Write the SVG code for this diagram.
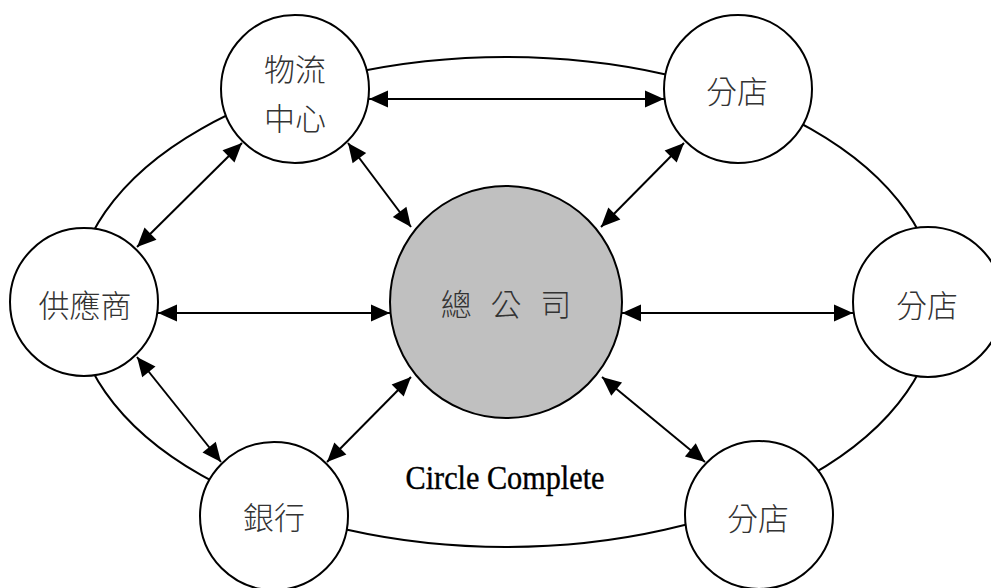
<svg xmlns="http://www.w3.org/2000/svg" width="991" height="588" viewBox="0 0 991 588">
<style>
.node{fill:#fff;stroke:#000;stroke-width:2}
.hub{fill:#c0c0c0;stroke:#000;stroke-width:2}
.lbl{font-family:"Noto Sans CJK TC","Noto Sans CJK SC",sans-serif;font-size:31px;font-weight:300;fill:#333;text-anchor:middle}
.arr{stroke:#000;stroke-width:2;fill:none;marker-start:url(#ah);marker-end:url(#ah)}
.ring{fill:none;stroke:#000;stroke-width:2}
.cap{font-family:"Liberation Serif",serif;font-size:34px;fill:#000;stroke:#000;stroke-width:0.4;text-anchor:middle}
</style>
<defs>
<marker id="ah" markerUnits="userSpaceOnUse" markerWidth="19" markerHeight="17" refX="19" refY="8.5" orient="auto-start-reverse" overflow="visible">
<path d="M0,0 L19,8.5 L0,17 z" fill="#000"/>
</marker>
</defs>
<rect width="991" height="588" fill="#fff"/>
<g id="connectors">
<ellipse class="ring" cx="506" cy="302" rx="431" ry="245"/>
<line class="arr" x1="369" y1="99" x2="664" y2="99"/>
<line class="arr" x1="158" y1="313" x2="390" y2="313"/>
<line class="arr" x1="622" y1="313" x2="853" y2="313"/>
<line class="arr" x1="242" y1="143" x2="137" y2="247"/>
<line class="arr" x1="348" y1="143" x2="411" y2="227"/>
<line class="arr" x1="684" y1="143" x2="601" y2="227"/>
<line class="arr" x1="137" y1="357" x2="221" y2="462"/>
<line class="arr" x1="327" y1="462" x2="411" y2="377"/>
<line class="arr" x1="602" y1="377" x2="705" y2="462"/>
</g>
<g id="hq">
<circle class="hub" cx="506" cy="302" r="116"/>
<text class="lbl" x="506" y="316" style="word-spacing:12px" xml:space="preserve">總 公 司</text>
</g>
<g id="logistics">
<circle class="node" cx="295" cy="89" r="74"/>
<text class="lbl" x="295" y="81">物流</text>
<text class="lbl" x="295" y="130">中心</text>
</g>
<g id="store-top">
<circle class="node" cx="738" cy="89" r="74"/>
<text class="lbl" x="737" y="103">分店</text>
</g>
<g id="supplier">
<circle class="node" cx="84" cy="302" r="74"/>
<text class="lbl" x="85" y="317">供應商</text>
</g>
<g id="store-right">
<circle class="node" cx="928" cy="302" r="75"/>
<text class="lbl" x="927" y="317">分店</text>
</g>
<g id="bank">
<circle class="node" cx="274" cy="516" r="74"/>
<text class="lbl" x="274" y="529">銀行</text>
</g>
<g id="store-bottom">
<circle class="node" cx="759" cy="515" r="74"/>
<text class="lbl" x="758" y="530">分店</text>
</g>
<text class="cap" x="505" y="489" textLength="199" lengthAdjust="spacingAndGlyphs">Circle Complete</text>
</svg>
